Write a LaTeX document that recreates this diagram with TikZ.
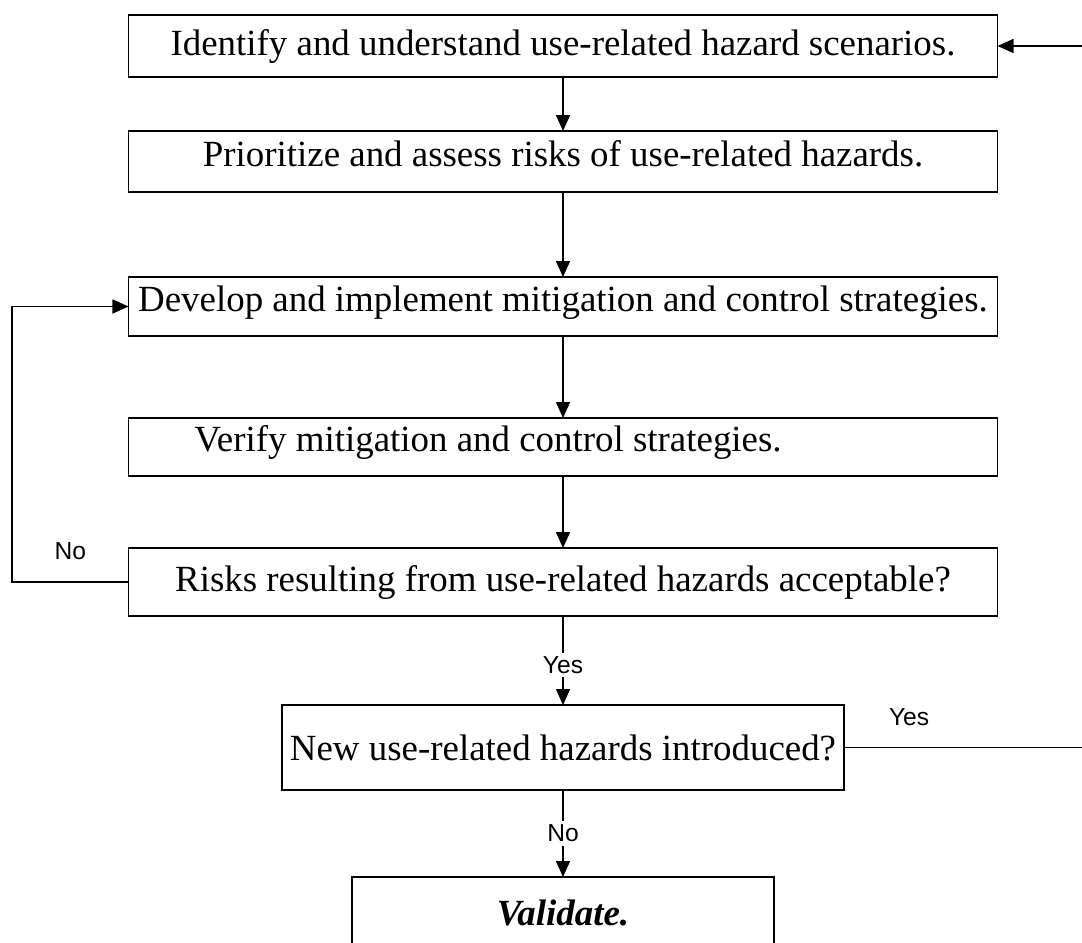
\documentclass[tikz,border=0pt]{standalone}
\usepackage{fontspec}
\setmainfont{Liberation Serif}
\newfontfamily\lblfont{Liberation Sans}
\usepackage{tikz}
\usetikzlibrary{positioning, arrows.meta}

\begin{document}
\begin{tikzpicture}[line width=0.9pt, >={Triangle[length=0.32cm, width=0.28cm]},
    stepbox/.style={draw, rectangle, minimum width=17.38cm, inner sep=2pt, outer sep=0pt, font=\fontsize{21}{25}\selectfont},
    raised/.style={text depth=0.32cm},
    lbl/.style={inner sep=2pt, font=\lblfont\fontsize{14}{16}\selectfont}]
    \useasboundingbox (0,0) rectangle (21.64,-18.84);
    % Nodes
    \node[stepbox, minimum height=1.24cm] (ident) at (11.26,-0.92) {Identify and understand use-related hazard scenarios.};
    \node[stepbox, raised, minimum height=1.22cm, below=1.08cm of ident] (prio) {Prioritize and assess risks of use-related hazards.};
    \node[stepbox, raised, minimum height=1.18cm, below=1.70cm of prio] (devel) {Develop and implement mitigation and control strategies.};
    \node[stepbox, raised, minimum height=1.16cm, below=1.64cm of devel] (verify) {Verify mitigation and control strategies.\hspace*{3cm}};
    \node[stepbox, minimum height=1.36cm, below=1.44cm of verify] (accept) {Risks resulting from use-related hazards acceptable?};
    \node[stepbox, minimum width=11.24cm, minimum height=1.70cm, below=1.78cm of accept] (newhaz) {New use-related hazards introduced?};
    \node[stepbox, minimum width=8.44cm, minimum height=1.44cm, below=1.74cm of newhaz] (valid) {\textbf{\textit{Validate.}}};
    \coordinate (lft) at (0.24,0);
    \coordinate (rgt) at (21.7,0);

    % Connections
    \draw[->] (ident) -- (prio);
    \draw[->] (prio) -- (devel);
    \draw[->] (devel) -- (verify);
    \draw[->] (verify) -- (accept);
    \draw[->] (accept) -- node[lbl, fill=white, pos=0.55] {Yes} (newhaz);
    \draw[->] (newhaz) -- node[lbl, fill=white] {No} (valid);
    \draw[->] (accept.west) -- node[lbl, above=0.35cm] {No} (accept.west -| lft) |- (devel.west);
    \draw[->] (newhaz.east) -- node[lbl, pos=0.27, above=0.35cm] {Yes} (newhaz.east -| rgt) |- (ident.east);
\end{tikzpicture}
\end{document}
